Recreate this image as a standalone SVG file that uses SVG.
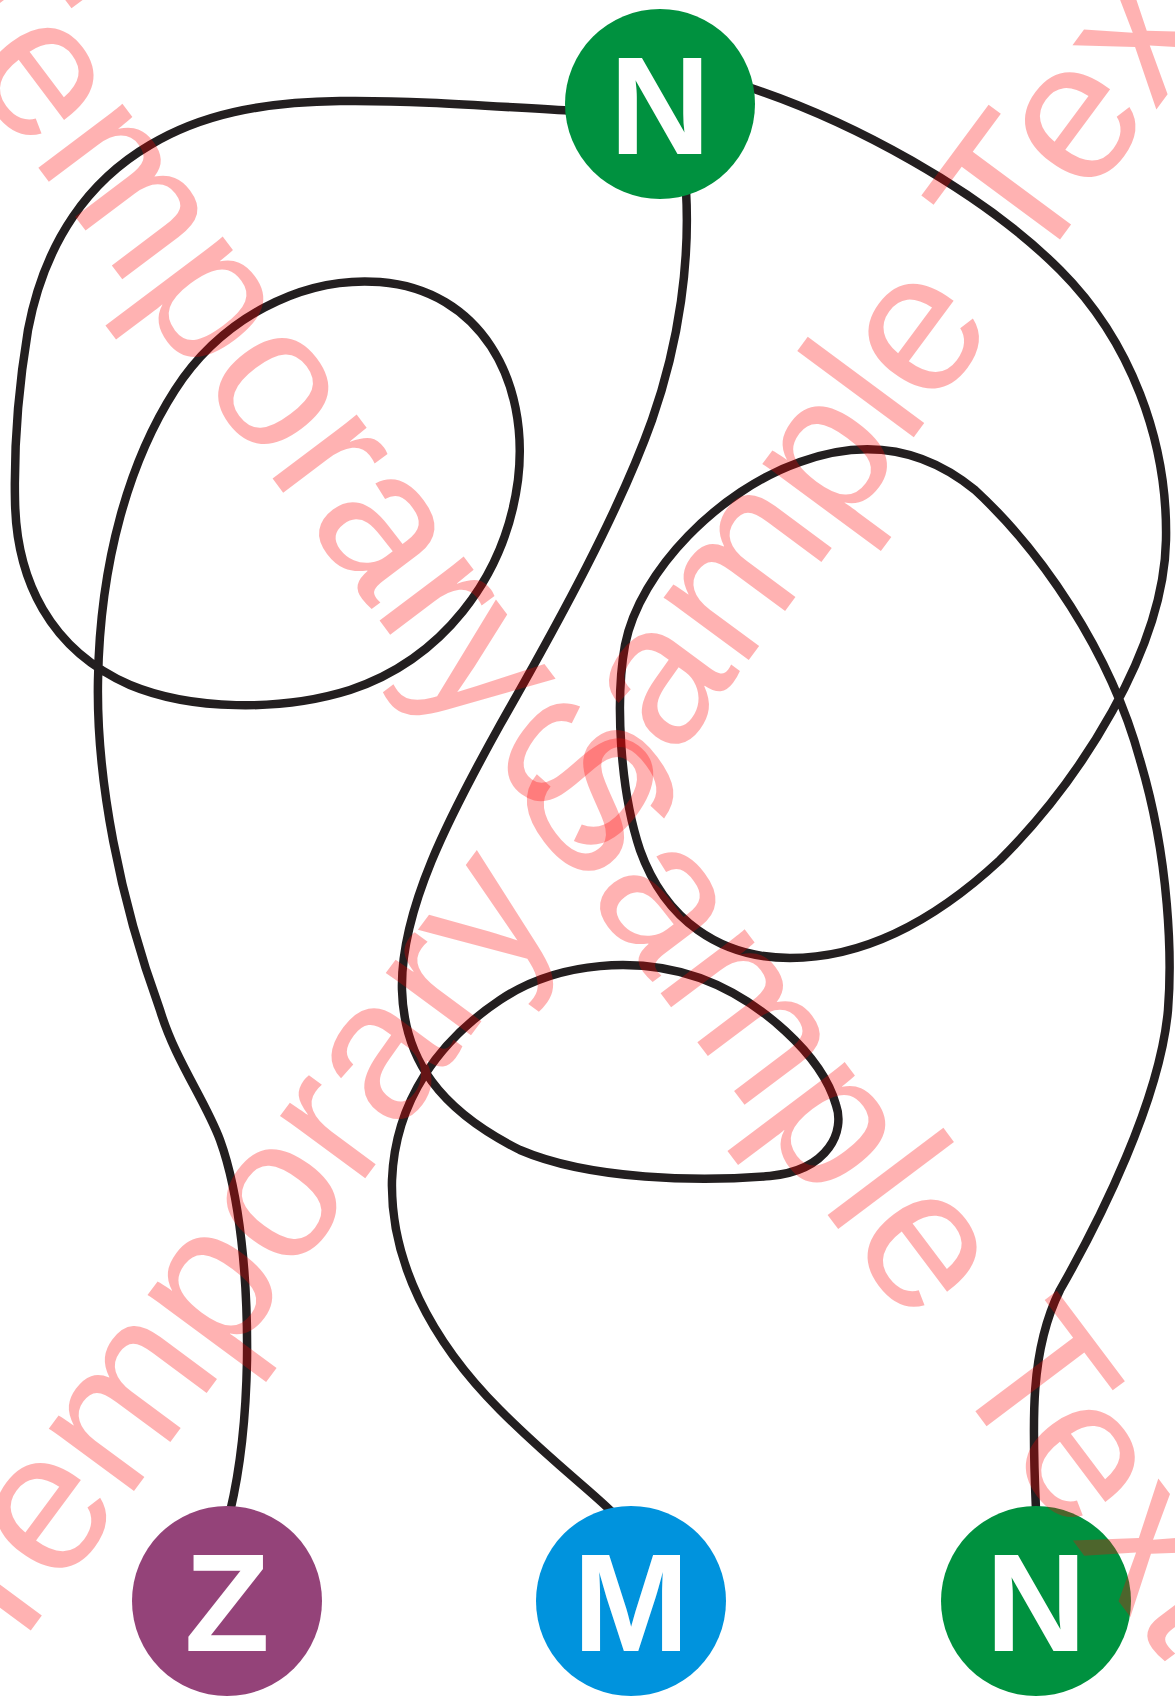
<svg xmlns="http://www.w3.org/2000/svg" width="1175" height="1706" viewBox="0 0 1175 1706">
<style>
.wire{fill:none;stroke:#231f20;stroke-width:8.5;stroke-linecap:round;stroke-linejoin:round}
.lbl{font-family:"Liberation Sans",Arial,sans-serif;font-weight:bold;font-size:140px;fill:#ffffff;text-anchor:middle}
.wm{font-family:"Liberation Sans",Arial,sans-serif;font-size:200px;fill:#ff0000;fill-opacity:0.3}
</style>
<rect width="1175" height="1706" fill="#ffffff"/>
<g id="connectors">
<path id="line-N-Z" class="wire" d="M 575 111 C 500 107, 420 100, 340 101 C 260 102, 200 115, 150 145 C 90 180, 45 240, 28 330 C 18 390, 14 450, 15 500 C 16 580, 50 650, 130 685 C 190 710, 280 712, 350 690 C 440 660, 505 580, 518 480 C 530 380, 480 290, 380 282 C 300 276, 220 320, 175 390 C 130 460, 100 560, 98 680 C 96 780, 120 900, 160 1010 C 175 1060, 205 1100, 220 1140 C 240 1195, 248 1280, 247 1360 C 246 1420, 240 1470, 230 1512"/>
<path id="line-N-M" class="wire" d="M 686 190 C 690 260, 680 340, 652 420 C 620 510, 560 620, 500 725 C 450 815, 400 910, 402 990 C 404 1060, 440 1110, 520 1150 C 590 1180, 700 1182, 770 1176 C 830 1170, 845 1130, 836 1105 C 822 1055, 760 1000, 700 978 C 640 957, 560 960, 500 1000 C 440 1040, 395 1100, 392 1180 C 390 1260, 430 1340, 500 1410 C 550 1460, 590 1490, 612 1512"/>
<path id="line-N-N" class="wire" d="M 745 86 C 850 120, 980 190, 1060 270 C 1130 340, 1168 440, 1166 540 C 1164 650, 1080 780, 1000 860 C 930 925, 860 958, 790 958 C 720 958, 665 920, 640 850 C 620 790, 615 700, 625 645 C 640 570, 720 490, 800 462 C 860 440, 920 445, 975 490 C 1040 550, 1110 650, 1140 760 C 1170 860, 1172 960, 1168 1010 C 1160 1100, 1100 1220, 1060 1290 C 1030 1350, 1032 1420, 1036 1510"/>
</g>
<g id="node-N-top">
<circle cx="660" cy="104" r="95" fill="#00913f"/>
<text class="lbl" x="660" y="154">N</text>
</g>
<g id="node-Z">
<circle cx="227" cy="1601" r="95" fill="#944379"/>
<text class="lbl" x="227" y="1651">Z</text>
</g>
<g id="node-M">
<circle cx="631" cy="1601" r="95" fill="#0093dd"/>
<text class="lbl" x="631" y="1651">M</text>
</g>
<g id="node-N-bottom">
<circle cx="1036" cy="1601" r="95" fill="#00913f"/>
<text class="lbl" x="1036" y="1651">N</text>
</g>
<g id="watermark">
<text class="wm" transform="translate(-97,-12) rotate(53)">Temporary Sample Text</text>
<text class="wm" transform="translate(0,1672) rotate(-53.5)">Temporary Sample Text</text>
</g>
</svg>
